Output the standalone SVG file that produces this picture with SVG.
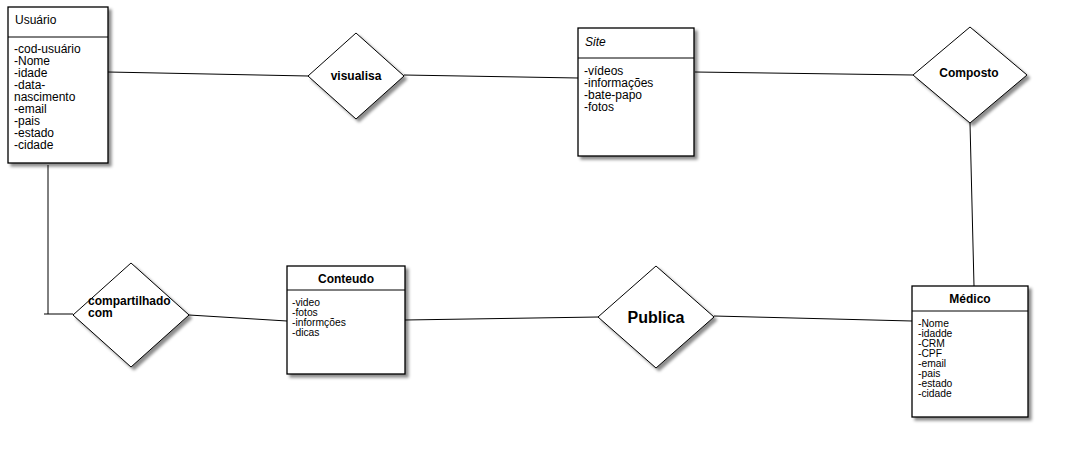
<svg xmlns="http://www.w3.org/2000/svg" width="1083" height="473" viewBox="0 0 1083 473">
<style>
.box{fill:#fff;stroke:#000;stroke-width:1.3}
.sep{stroke:#000;stroke-width:1}
.dia{fill:#fff;stroke:#000;stroke-width:1}
.conn{stroke:#000;stroke-width:1;fill:none}
text{font-family:"Liberation Sans",Arial,sans-serif;fill:#000}
.t11{font-size:12px}
.t9{font-size:10.3px}
.b{font-weight:bold}
</style>
<defs>
<filter id="sh" x="-10%" y="-10%" width="130%" height="130%">
<feDropShadow dx="3" dy="3" stdDeviation="1.5" flood-color="#000" flood-opacity="0.45"/>
</filter>
</defs>
<rect width="1083" height="473" fill="#fff"/>
<g id="connectors">
<line class="conn" x1="108" y1="72" x2="308" y2="76"/>
<line class="conn" x1="404" y1="75" x2="578" y2="78"/>
<line class="conn" x1="695" y1="72" x2="913" y2="75"/>
<line class="conn" x1="970" y1="123" x2="974" y2="286"/>
<polyline class="conn" points="48,165 48,314"/>
<line class="conn" x1="44" y1="314" x2="73" y2="314"/>
<line class="conn" x1="189" y1="315" x2="287" y2="321"/>
<line class="conn" x1="405" y1="320" x2="598" y2="317"/>
<line class="conn" x1="714" y1="316" x2="912" y2="321"/>
</g>
<g id="usuario">
<rect class="box" x="8" y="7" width="100" height="156" filter="url(#sh)"/>
<line class="sep" x1="8" y1="37" x2="108" y2="37"/>
<text class="t11" x="15" y="24">Usuário</text>
<text class="t11" x="14" y="53">-cod-usuário</text>
<text class="t11" x="14" y="65">-Nome</text>
<text class="t11" x="14" y="77">-idade</text>
<text class="t11" x="14" y="89">-data-</text>
<text class="t11" x="14" y="101">nascimento</text>
<text class="t11" x="14" y="113">-email</text>
<text class="t11" x="14" y="125">-pais</text>
<text class="t11" x="14" y="137">-estado</text>
<text class="t11" x="14" y="149">-cidade</text>
</g>
<g id="site">
<rect class="box" x="578" y="28" width="116" height="128" filter="url(#sh)"/>
<line class="sep" x1="578" y1="58" x2="694" y2="58"/>
<text class="t11" x="585" y="46" font-style="italic">Site</text>
<text class="t11" x="584" y="75">-vídeos</text>
<text class="t11" x="584" y="87">-informações</text>
<text class="t11" x="584" y="99">-bate-papo</text>
<text class="t11" x="584" y="111">-fotos</text>
</g>
<g id="conteudo">
<rect class="box" x="287" y="266" width="118" height="108" filter="url(#sh)"/>
<line class="sep" x1="287" y1="290" x2="405" y2="290"/>
<text class="t11 b" x="346" y="283" text-anchor="middle">Conteudo</text>
<text class="t9" x="292" y="306">-video</text>
<text class="t9" x="292" y="316">-fotos</text>
<text class="t9" x="292" y="326">-informções</text>
<text class="t9" x="292" y="336">-dicas</text>
</g>
<g id="medico">
<rect class="box" x="912" y="286" width="116" height="131" filter="url(#sh)"/>
<line class="sep" x1="912" y1="311" x2="1028" y2="311"/>
<text class="t11 b" x="970" y="303" text-anchor="middle">Médico</text>
<text class="t9" x="918" y="327">-Nome</text>
<text class="t9" x="918" y="337">-idadde</text>
<text class="t9" x="918" y="347">-CRM</text>
<text class="t9" x="918" y="357">-CPF</text>
<text class="t9" x="918" y="367">-email</text>
<text class="t9" x="918" y="377">-pais</text>
<text class="t9" x="918" y="387">-estado</text>
<text class="t9" x="918" y="397">-cidade</text>
</g>
<g id="visualisa">
<polygon class="dia" points="356,33 404,76 356,119 308,76" filter="url(#sh)"/>
<text class="t11 b" x="356" y="80" text-anchor="middle">visualisa</text>
</g>
<g id="composto">
<polygon class="dia" points="970,27 1027,75 970,123 913,75" filter="url(#sh)"/>
<text class="t11 b" x="969" y="77" text-anchor="middle">Composto</text>
</g>
<g id="compartilhado">
<polygon class="dia" points="131,263 189,315 131,367 73,315" filter="url(#sh)"/>
<text class="t11 b" x="88" y="305">compartilhado</text>
<text class="t11 b" x="88" y="317">com</text>
</g>
<g id="publica">
<polygon class="dia" points="656,266 714,317 656,368 598,317" filter="url(#sh)"/>
<text class="b" x="656" y="323" text-anchor="middle" font-size="16">Publica</text>
</g>
</svg>
